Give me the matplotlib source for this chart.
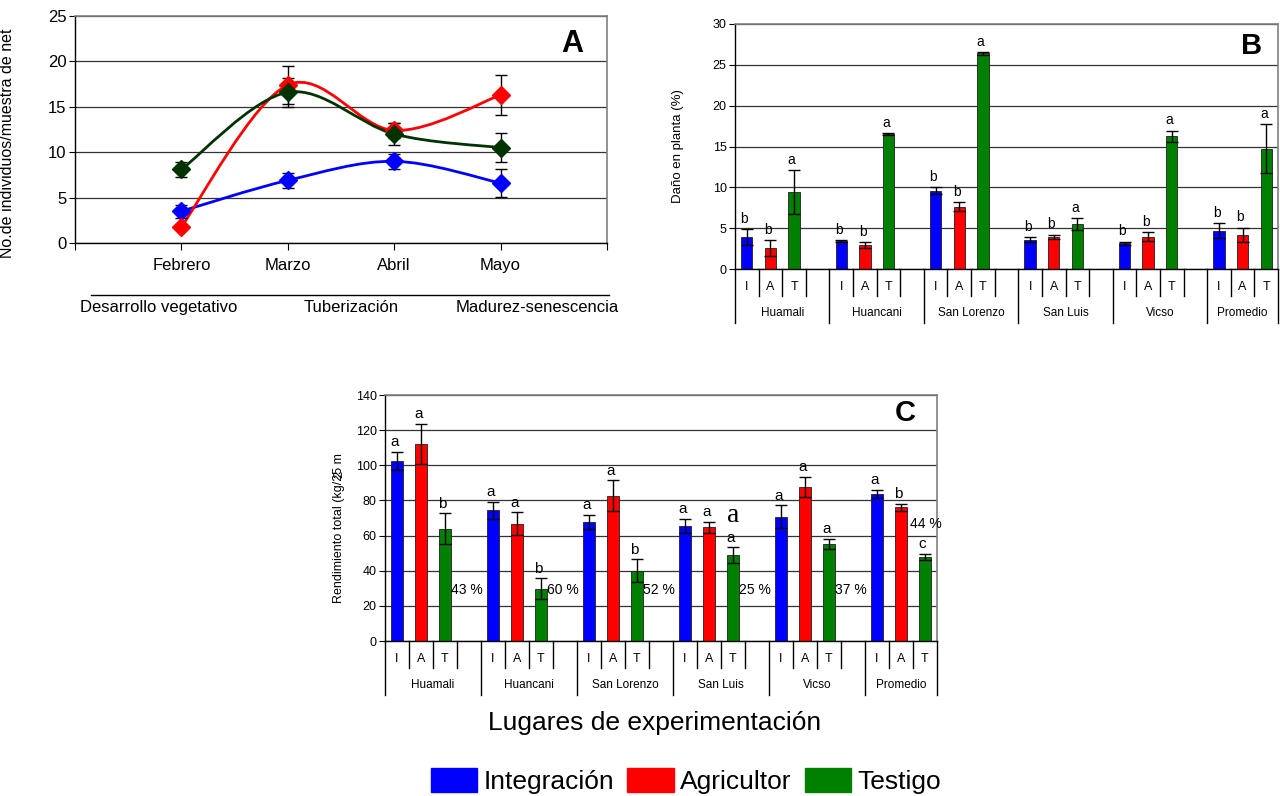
import numpy as np
import matplotlib
matplotlib.use('Agg')
from matplotlib import pyplot as plt
from matplotlib.path import Path
from matplotlib.patches import PathPatch, Patch

plt.rcParams['font.family'] = ['Liberation Sans', 'DejaVu Sans']

# ---- datos panel A (No. individuos / muestra de net)
meses = ['Febrero', 'Marzo', 'Abril', 'Mayo']
fases = ['Desarrollo vegetativo', 'Tuberización', 'Madurez-senescencia']
a_integ = [3.5, 6.9, 9.0, 6.6]
a_integ_err = [0.7, 0.8, 0.85, 1.55]
a_agri = [1.8, 17.4, 12.4, 16.3]
a_agri_err = [0.0, 2.1, 0.8, 2.2]
a_test = [8.1, 16.6, 12.0, 10.5]
a_test_err = [0.85, 1.6, 1.2, 1.6]

# ---- datos panel B (Daño en planta %)
sitios = ['Huamali', 'Huancani', 'San Lorenzo', 'San Luis', 'Vicso', 'Promedio']
trat = ['I', 'A', 'T']
b_integ = [3.9, 3.4, 9.6, 3.6, 3.15, 4.7]
b_integ_err = [1.0, 0.1, 0.4, 0.33, 0.2, 0.9]
b_agri = [2.6, 2.9, 7.6, 3.95, 3.95, 4.2]
b_agri_err = [0.95, 0.35, 0.55, 0.25, 0.53, 0.86]
b_test = [9.45, 16.5, 26.4, 5.5, 16.25, 14.75]
b_test_err = [2.7, 0.1, 0.2, 0.7, 0.7, 3.0]
b_letras = [['b', 'b', 'a'], ['b', 'b', 'a'], ['b', 'b', 'a'],
            ['b', 'b', 'a'], ['b', 'b', 'a'], ['b', 'b', 'a']]

# ---- datos panel C (Rendimiento total)
c_integ = [102.4, 74.3, 67.6, 65.5, 70.8, 83.7]
c_integ_err = [5.2, 5.0, 4.1, 4.1, 6.4, 2.5]
c_agri = [112.2, 66.8, 82.8, 64.7, 87.5, 76.0]
c_agri_err = [11.5, 6.4, 8.7, 3.2, 5.8, 2.1]
c_test = [64.0, 29.7, 40.1, 48.9, 55.1, 47.8]
c_test_err = [8.7, 5.9, 6.4, 4.4, 2.9, 1.9]
c_letras = [['a', 'a', 'b'], ['a', 'a', 'b'], ['a', 'a', 'b'],
            ['a', 'a', 'a'], ['a', 'a', 'a'], ['a', 'b', 'c']]
c_perdida = ['43 %', '60 %', '52 %', '25 %', '37 %', '44 %']

azul = '#0000FF'
rojo = '#FF0000'
verde = '#008000'
verde_osc = '#003300'


def suave(x, y):
    # curva suavizada tipo excel (bezier catmull-rom)
    x = np.asarray(x, float)
    y = np.asarray(y, float)
    px = np.concatenate([[x[0]], x, [x[-1]]])
    py = np.concatenate([[y[0]], y, [y[-1]]])
    verts = [(x[0], y[0])]
    codes = [Path.MOVETO]
    for i in range(len(x) - 1):
        c1 = (x[i] + (px[i + 2] - px[i]) / 6, y[i] + (py[i + 2] - py[i]) / 6)
        c2 = (x[i + 1] - (px[i + 3] - px[i + 1]) / 6, y[i + 1] - (py[i + 3] - py[i + 1]) / 6)
        verts += [c1, c2, (x[i + 1], y[i + 1])]
        codes += [Path.CURVE4] * 3
    return Path(verts, codes)


def estilo(ax, ymax, paso, fs):
    ax.set_ylim(0, ymax)
    ax.set_yticks(np.arange(0, ymax + 1, paso))
    ax.set_axisbelow(True)
    ax.yaxis.grid(True, color='#333333', lw=0.9)
    for s in ['top', 'right']:
        ax.spines[s].set_color('#808080')
        ax.spines[s].set_linewidth(1.2)
    ax.spines['left'].set_linewidth(1.0)
    ax.spines['bottom'].set_linewidth(1.0)
    ax.tick_params(axis='y', direction='out', length=4, labelsize=fs, pad=2)


def barras(ax, v1, e1, v2, e2, v3, e3, letras, pad_letra, fs_letra):
    n = len(sitios)
    base = np.arange(n) * 4
    for k, (v, e, col) in enumerate([(v1, e1, azul), (v2, e2, rojo), (v3, e3, verde)]):
        ax.bar(base + k, v, width=0.48, color=col, edgecolor='#202020', lw=0.6, zorder=2)
        ax.errorbar(base + k, v, yerr=e, fmt='none', ecolor='black', elinewidth=1,
                    capsize=4, capthick=1, zorder=3)
        for g in range(n):
            ax.text(base[g] + k - 0.1, v[g] + e[g] + pad_letra, letras[g][k],
                    ha='center', va='bottom', fontsize=fs_letra)
    ax.set_xlim(-0.5, 4 * n - 1.5)
    ax.set_xticks([])
    tr = ax.get_xaxis_transform()
    for g in range(n):
        ax.plot([base[g] - 0.5] * 2, [0, -0.22], transform=tr, color='black', lw=1, clip_on=False)
        for k in range(3):
            ax.text(base[g] + k, -0.075, trat[k], transform=tr, ha='center', va='center', fontsize=9)
            if g < n - 1 or k < 2:
                ax.plot([base[g] + k + 0.5] * 2, [0, -0.11], transform=tr, color='black', lw=1, clip_on=False)
        ax.text(base[g] + 1.5 if g < n - 1 else base[g] + 1, -0.18, sitios[g], transform=tr,
                ha='center', va='center', fontsize=8.5)
    ax.plot([4 * n - 1.5] * 2, [0, -0.22], transform=tr, color='black', lw=1, clip_on=False)


fig = plt.figure(figsize=(12.8, 7.96), dpi=100)

# ---------------- panel A
axA = fig.add_axes([75 / 1280, 1 - 243 / 796, 532 / 1280, 227 / 796])
estilo(axA, 25, 5, 12)
x = np.arange(1, 5)
for v, e, col in [(a_integ, a_integ_err, azul), (a_agri, a_agri_err, rojo), (a_test, a_test_err, verde_osc)]:
    axA.add_patch(PathPatch(suave(x, v), facecolor='none', edgecolor=col, lw=2, zorder=3))
    axA.errorbar(x, v, yerr=e, fmt='none', ecolor='black', elinewidth=1, capsize=4, capthick=1, zorder=4)
    axA.plot(x, v, 'D', color=col, markersize=9.5, zorder=5)
axA.set_xlim(0, 5)
axA.set_xticks(range(6))
axA.set_xticklabels([''] + meses + [''], fontsize=12)
axA.tick_params(axis='x', direction='out', length=5, pad=6)
axA.set_ylabel('No.de individuos/muestra de net', fontsize=11.5)
axA.yaxis.set_label_coords(-0.113, 0.44)
axA.text(0.955, 0.877, 'A', transform=axA.transAxes, ha='right', va='center',
         fontsize=22, fontweight='bold')
trA = axA.get_xaxis_transform()
axA.plot([0.15, 5.02], [-0.23, -0.23], transform=trA, color='black', lw=1, clip_on=False)
for xp, f in zip([0.79, 2.60, 4.34], fases):
    axA.text(xp, -0.285, f, transform=trA, ha='center', va='center', fontsize=12)

# ---------------- panel B
axB = fig.add_axes([735 / 1280, 1 - 269 / 796, 543 / 1280, 245 / 796])
estilo(axB, 30, 5, 9)
barras(axB, b_integ, b_integ_err, b_agri, b_agri_err, b_test, b_test_err, b_letras, 0.4, 10)
axB.set_ylabel('Daño en planta (%)', fontsize=9.5)
axB.yaxis.set_label_coords(-0.094, 0.5)
axB.text(0.97, 0.91, 'B', transform=axB.transAxes, ha='right', va='center',
         fontsize=21, fontweight='bold')

# ---------------- panel C
axC = fig.add_axes([385 / 1280, 1 - 641 / 796, 552 / 1280, 246 / 796])
estilo(axC, 140, 20, 9)
barras(axC, c_integ, c_integ_err, c_agri, c_agri_err, c_test, c_test_err, c_letras, 1.5, 11)
axC.set_ylabel('Rendimiento total (kg/25 m', fontsize=9)
axC.yaxis.set_label_coords(-0.072, 0.46)
# el "2" del m2 queda encima del texto, como en el original
fig.text(339 / 1280, 1 - 474 / 796, '2', rotation=90, ha='center', va='center', fontsize=9)
axC.text(0.962, 0.925, 'C', transform=axC.transAxes, ha='right', va='center',
         fontsize=21, fontweight='bold')
for g, txt in enumerate(c_perdida):
    if g < len(c_perdida) - 1:
        axC.text(4 * g + 2.9, 29, txt, ha='center', va='center', fontsize=10)
    else:
        axC.text(4 * g + 2.05, 66.5, txt, ha='center', va='center', fontsize=10)
axC.text(14, 71.7, 'a', ha='center', va='center', fontsize=20, family='Liberation Serif')

fig.text(655 / 1280, 1 - 723 / 796, 'Lugares de experimentación', ha='center', va='center', fontsize=19)

handles = [Patch(facecolor=azul, edgecolor=azul), Patch(facecolor=rojo, edgecolor=rojo),
           Patch(facecolor=verde, edgecolor=verde)]
fig.legend(handles, ['Integración', 'Agricultor', 'Testigo'], loc='center',
           bbox_to_anchor=(686 / 1280, 1 - 781 / 796), ncol=3, frameon=False, fontsize=19,
           handlelength=1.75, handleheight=1.05, handletextpad=0.25, columnspacing=0.5,
           borderpad=0, borderaxespad=0)

fig.savefig('out.png', dpi=100)
